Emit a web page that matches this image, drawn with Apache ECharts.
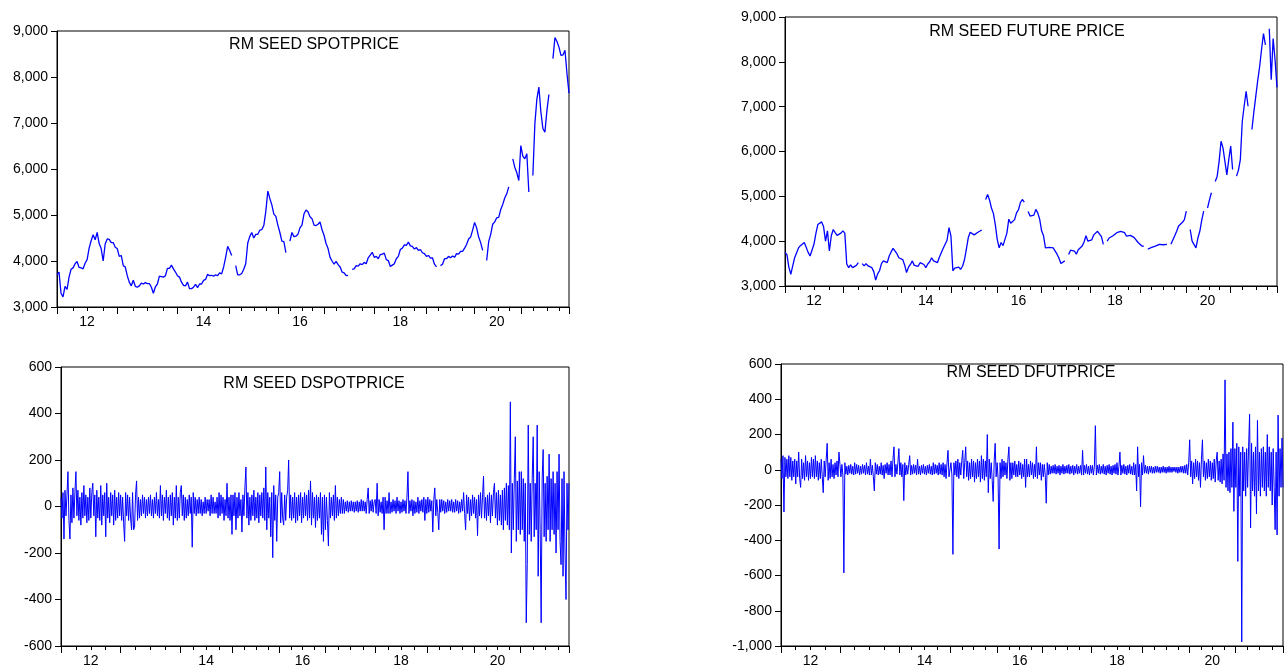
<!DOCTYPE html>
<html>
<head>
<meta charset="utf-8">
<script src="https://cdn.jsdelivr.net/npm/echarts@6/dist/echarts.min.js"></script>
<style>
html,body{margin:0;padding:0;background:#fff;}
#c{width:1284px;height:668px;}
</style>
</head>
<body>
<div id="c"></div>
<script>
// ---- sampling of the x axis (observations per calendar year) ----
const years = [2012, 2013, 2014, 2015, 2016, 2017, 2018, 2019, 2020, 2021];
const obsPerYearPrice = [30, 30, 26, 24, 23, 25, 26, 24, 23, 25];
const obsPerYearDiff = [60, 60, 52, 48, 46, 50, 52, 48, 46, 50];
const xTickLabels = ['12', '14', '16', '18', '20'];
const spotTicks = [3000, 4000, 5000, 6000, 7000, 8000, 9000];
const futTicks = [3000, 4000, 5000, 6000, 7000, 8000, 9000];
const dspotTicks = [-600, -400, -200, 0, 200, 400, 600];
const dfutTicks = [-1000, -800, -600, -400, -200, 0, 200, 400, 600];

const titles = ['RM SEED SPOTPRICE', 'RM SEED FUTURE PRICE', 'RM SEED DSPOTPRICE', 'RM SEED DFUTPRICE'];

const spotPrice = [
3700,3760,3300,3220,3450,3380,3650,3820,3850,3940,
3990,3860,3850,3830,3950,4030,4280,4440,4570,4460,
4620,4380,4270,4000,4370,4480,4470,4400,4400,4300,
4270,4100,4120,3900,3870,3680,3540,3460,3580,3450,
3430,3460,3520,3500,3530,3510,3510,3430,3300,3440,
3500,3670,3660,3650,3680,3840,3840,3910,3830,3760,
3680,3650,3540,3470,3460,3540,3400,3400,3430,3490,
3420,3500,3500,3580,3600,3710,3680,3690,3670,3700,
3680,3740,3720,3870,4080,4320,4230,4120,null,3900,
3700,3700,3730,3820,3940,4390,4530,4620,4500,4580,
4580,4670,4680,4770,5080,5520,5360,5220,5020,4970,
4780,4620,4430,4420,4180,null,4430,4620,4530,4540,
4580,4720,4780,5020,5110,5070,4960,4920,4780,4770,
4800,4850,4680,4560,4380,4270,4080,4000,3930,3990,
3920,3870,3760,3740,3680,3690,null,3820,3830,3900,
3890,3940,3920,3970,3940,4070,4130,4190,4080,4100,
4050,4140,4150,4170,4030,4010,3880,3910,3940,4050,
4100,4250,4280,4350,4340,4410,4330,4320,4260,4290,
4230,4250,4180,4160,4100,4120,4060,4070,3930,3870,
null,3900,3930,4050,4050,4100,4070,4110,4080,4160,
4150,4210,4210,4280,4360,4480,4520,4670,4840,4720,
4520,4400,4230,null,4010,4420,4580,4800,4850,4940,
4950,5120,5230,5370,5460,5610,null,6220,6040,5920,
5750,6510,6280,6220,6330,5500,null,5860,6980,7520,
7780,7240,6880,6800,7270,7620,null,8400,8860,8770,
8650,8470,8480,8580,8070,7650
];

const futPrice = [
3750,3700,3420,3260,3450,3630,3630,3850,3900,3890,
3970,4000,3750,3670,3670,3930,4170,4370,4400,4430,
4320,4000,4230,3780,4120,4260,4190,4130,4150,4180,
4230,4180,3490,3410,3470,3410,3440,3460,3520,null,
3500,3450,3500,3450,3460,3410,3320,3130,3270,3340,
3500,3560,3580,3520,3670,3760,3840,3820,3720,3630,
3650,3590,3470,3300,3420,3480,3560,3460,3450,3440,
3520,3480,3480,3410,3490,3540,3630,3560,3560,3520,
3640,3740,3840,3880,4020,4300,4120,3340,3400,3370,
3420,3370,3440,3580,3820,4080,4200,4190,4140,4100,
4200,4190,4250,null,4930,5040,4920,4740,4620,4370,
4040,3850,3970,3900,3890,4180,4490,4400,4410,4480,
4630,4700,4860,4930,4870,null,4660,4560,4560,4580,
4710,4630,4490,4230,4120,3850,3890,3860,3880,3850,
3820,3710,3620,3500,3520,3560,null,3700,3800,3780,
3780,3710,3810,3830,3890,3980,4120,4000,3970,4030,
4140,4150,4220,4190,4100,3930,null,4000,4070,4060,
4120,4110,4190,4170,4220,4190,4190,4110,4130,4130,
4120,4080,4040,3970,3950,3890,3890,null,3820,3800,
3860,3820,3890,3880,3930,3890,3920,3890,3930,null,
3930,3930,4120,4220,4340,4370,4420,4480,4670,null,
4260,4000,3960,3850,4070,4220,4470,4670,null,4740,
4920,5080,null,5330,5450,5780,6230,6080,6040,5480,
5820,6120,5600,null,5450,5580,5820,6670,7020,7340,
7010,null,6490,6880,7230,7580,7890,8280,8630,8380,
null,8740,7600,8520,8040,7430
];

const dSpotPrice = [
// 2012
40,-50,60,-140,70,-40,50,150,-60,-140,50,-70,80,-50,60,150,-40,70,-60,40,
-80,60,-50,90,-40,50,-70,40,-60,80,-50,60,100,-40,50,-130,70,-50,40,-60,
90,-80,50,-40,60,-130,100,-50,40,-70,60,-40,50,-80,70,-60,40,-50,60,-40,
// 2013
50,-60,40,-70,-150,60,-40,50,-60,40,-50,-100,60,-100,-90,50,110,-60,40,-50,
30,-40,50,-30,40,-50,30,-40,40,-30,50,-40,30,-50,40,-30,60,-40,30,-50,
90,-40,50,-60,40,-30,70,-50,40,-60,50,-40,60,-80,40,-50,90,-60,40,-50,
// 2014
60,90,-40,50,-60,40,-50,30,-40,50,-30,40,-175,60,-30,40,-40,30,-30,40,
-30,30,-40,20,-30,40,-30,30,-20,30,-40,50,-30,40,-30,20,-30,40,-50,60,
-40,50,-30,40,-60,30,-40,100,-50,40,-60,50,
// 2015
-120,50,-40,60,-100,40,-50,60,-40,30,-110,50,-40,80,170,-50,60,-80,40,-60,
50,-40,70,-60,40,-50,60,-70,50,-40,60,-50,80,-60,170,-100,60,-50,40,-130,
60,-220,90,-60,50,-150,40,60,
// 2016
150,-70,60,-50,-80,50,-60,40,70,200,-50,50,-60,40,-50,60,-70,40,-60,50,
-40,60,-70,40,-50,60,-40,50,-60,70,-50,110,-80,60,-50,40,-90,50,-60,40,
-50,60,-120,40,-150,50,
// 2017
-100,40,-60,-170,60,-50,40,-40,50,-60,90,-50,40,-40,30,-30,40,-30,30,-30,
20,-20,25,-25,20,-20,25,-20,20,-25,20,-20,25,-25,20,-20,30,-20,25,-20,
20,-30,30,80,-30,25,-20,30,-25,20,
// 2018
30,-30,100,-40,30,-25,20,-30,40,-100,40,-30,25,-30,60,-30,20,-25,30,-20,
25,-30,40,-20,25,-30,20,-25,30,-20,25,-30,40,150,-30,25,-20,30,-40,25,
-30,20,-25,40,-30,25,-20,30,-25,40,-60,30,
// 2019
-30,40,-25,30,-20,25,-110,30,80,-40,30,-25,-100,30,-25,30,-20,25,-30,20,
-25,30,-20,25,-20,30,-25,20,-25,30,-20,25,-30,20,-25,30,-20,60,-30,-100,
50,-30,40,-60,30,-40,50,-30,
// 2020
40,-50,30,-125,50,-40,60,-50,40,130,-50,40,-60,50,-40,60,-70,50,-40,60,
100,-50,60,-80,70,-60,50,-80,70,-100,80,-60,100,-80,90,-100,450,-200,100,-100,
120,300,-150,110,-100,150,
// 2021
-120,150,-100,120,-150,100,-500,-250,350,-120,100,-150,120,300,-130,100,-100,350,-300,150,
-100,-500,120,245,-130,100,-150,130,-100,225,-150,120,-100,150,-120,100,-200,150,-100,225,
-150,-250,120,-300,150,-200,-400,100,-100,100
];

const dFutPrice = [
// 2012
60,-50,80,-240,70,-40,60,-50,80,-40,70,-60,50,-40,60,-80,50,-40,100,-50,
-100,60,-50,40,-60,80,-40,50,-60,40,-50,70,-40,60,-50,80,-40,50,-60,40,
-50,60,-40,-130,50,-40,60,150,-60,40,-50,60,-40,30,-50,40,-30,50,-40,100,
// 2013
30,-40,30,-30,-585,40,-25,20,-30,25,-20,30,-25,20,-30,40,-25,30,-20,25,
-30,20,-25,30,-20,25,-30,40,-25,20,-30,60,-30,25,-40,-120,40,-25,30,-30,
20,-25,40,-30,25,-50,30,-20,40,-30,30,-30,50,-40,60,130,-40,30,-25,40,
// 2014
120,-30,40,-40,30,-175,40,-30,25,-25,30,80,-30,25,-25,30,-20,25,-30,60,
-25,20,-30,25,-20,30,-25,20,-30,25,-20,30,-25,20,-30,40,-25,30,-20,25,
-30,40,-25,30,-30,40,-40,30,-50,40,110,-40,
// 2015
-50,40,-30,-480,40,-30,50,-40,60,-50,40,-30,50,110,-50,40,130,-40,50,-60,
40,-50,60,-40,50,-70,40,-50,60,-40,50,-70,80,-50,60,-60,50,-40,200,-130,
60,-50,40,-60,-180,50,150,-40,
// 2016
40,-50,-450,40,-50,60,-40,50,-30,40,-50,60,130,-60,40,-50,40,-30,50,-40,
30,-40,50,-30,40,-50,30,-40,60,-100,60,-40,30,-40,50,-30,40,-50,30,-40,
130,-50,40,-30,40,-60,
// 2017
30,-40,30,-30,-190,40,-30,30,-25,20,-20,25,-20,30,-25,20,-20,25,-30,20,
-20,30,-25,20,-20,25,-20,30,-25,20,-20,25,-30,20,-20,30,-25,20,-20,25,
-30,110,-30,25,-20,30,-25,20,-30,25,
// 2018
-20,25,-30,20,250,-30,25,-20,30,-25,20,-20,30,-25,20,-30,25,-20,30,-25,
20,-30,25,-20,30,-25,40,-30,20,100,-30,25,-20,30,-25,20,-30,25,-20,30,
-25,20,-30,40,-30,30,-120,130,-40,30,-210,40,
// 2019
-30,80,-20,25,-20,20,-25,20,-15,20,-20,15,-20,20,-15,20,-15,15,-20,15,
-15,20,-15,15,-20,15,-15,20,-15,15,-15,15,-10,15,-15,15,-20,15,-15,20,
-15,20,-20,25,-20,30,-30,40,
// 2020
170,-40,50,-80,40,-50,60,-40,50,-60,40,-100,60,170,-40,50,-60,40,-50,60,
-40,50,-60,40,-50,60,-70,50,100,-60,50,-70,60,-80,90,-60,510,-100,90,-120,
100,-130,120,-100,270,-236,
// 2021
120,-100,150,-520,130,-150,100,-977,130,-120,100,-150,120,-100,130,315,-330,150,-120,100,
-150,130,-250,280,-120,100,-150,120,-100,130,-120,100,-150,200,-100,130,-120,100,-200,120,
-100,-340,100,-370,310,-150,120,-100,180,-100
];

// ---- build a category axis from the per-year sampling ----
function buildAxis(obsPerYear) {
  const cats = [], yearStart = new Set(), quarterStart = new Set(), labelAt = {};
  let idx = 0;
  years.forEach((y, j) => {
    const n = obsPerYear[j];
    for (let k = 0; k < n; k++) cats.push(y + '-' + (k + 1));
    yearStart.add(idx);
    for (let q = 1; q < 4; q++) quarterStart.add(idx + Math.round(n * q / 4));
    const short = String(y).slice(2);
    if (xTickLabels.indexOf(short) >= 0) labelAt[idx + Math.floor(n / 2)] = short;
    idx += n;
  });
  yearStart.add(cats.length - 1);
  return {cats, yearStart, quarterStart, labelAt};
}
const axPrice = buildAxis(obsPerYearPrice);
const axDiff = buildAxis(obsPerYearDiff);

const FONT = 'Arial, "Liberation Sans", Helvetica, sans-serif';
const grids = [
  {left: 57, top: 31, width: 512, height: 276},
  {left: 785, top: 17, width: 492, height: 269},
  {left: 61, top: 367, width: 508, height: 281},
  {left: 781, top: 364, width: 502, height: 282}
];
const yTicks = [spotTicks, futTicks, dspotTicks, dfutTicks];
const seriesData = [spotPrice, futPrice, dSpotPrice, dFutPrice];
const axes = [axPrice, axPrice, axDiff, axDiff];
const titlePos = [[314, 37], [1027, 24], [314, 376], [1031, 365]];

const option = {
  animation: false,
  backgroundColor: '#fff',
  title: titles.map((t, i) => ({
    text: t, left: titlePos[i][0], top: titlePos[i][1], textAlign: 'center', padding: 0,
    textStyle: {fontFamily: FONT, fontSize: 16, fontWeight: 'normal', color: '#000', lineHeight: 16}
  })),
  grid: grids.map(g => Object.assign({show: true, borderColor: '#000', borderWidth: 1, backgroundColor: 'transparent', containLabel: false}, g)),
  xAxis: [],
  yAxis: [],
  series: []
};

for (let g = 0; g < 4; g++) {
  const ax = axes[g];
  option.xAxis.push({
    type: 'category', gridIndex: g, data: ax.cats, boundaryGap: false, position: 'bottom',
    axisLine: {show: true, onZero: false, lineStyle: {color: '#000', width: 1}},
    axisTick: {show: true, length: 7, interval: (i) => ax.yearStart.has(i), lineStyle: {color: '#000', width: 1}},
    axisLabel: {show: true, interval: (i) => ax.labelAt[i] !== undefined, formatter: (v, i) => ax.labelAt[i] || '',
      margin: 8, fontFamily: FONT, fontSize: 14, color: '#000'},
    splitLine: {show: false}
  });
  option.xAxis.push({
    type: 'category', gridIndex: g, data: ax.cats, boundaryGap: false, position: 'bottom', offset: 0,
    axisLine: {show: false, onZero: false},
    axisTick: {show: true, length: 4, interval: (i) => ax.quarterStart.has(i), lineStyle: {color: '#000', width: 1}},
    axisLabel: {show: false},
    splitLine: {show: false}
  });
  const t = yTicks[g];
  option.yAxis.push({
    type: 'value', gridIndex: g, min: t[0], max: t[t.length - 1], interval: t[1] - t[0],
    axisLine: {show: true, lineStyle: {color: '#000', width: 1}},
    axisTick: {show: true, length: 6, lineStyle: {color: '#000', width: 1}},
    axisLabel: {margin: 9, fontFamily: FONT, fontSize: 14, color: '#000',
      formatter: v => v.toLocaleString('en-US')},
    splitLine: {show: false}
  });
  option.series.push({
    type: 'line', xAxisIndex: g * 2, yAxisIndex: g, data: seriesData[g],
    symbol: 'none', showSymbol: false, connectNulls: false, sampling: null,
    lineStyle: {color: '#0000ff', width: g < 2 ? 1.3 : 1},
    itemStyle: {color: '#0000ff'}
  });
}

const chart = echarts.init(document.getElementById('c'), null, {renderer: 'canvas'});
chart.setOption(option);
</script>
</body>
</html>
